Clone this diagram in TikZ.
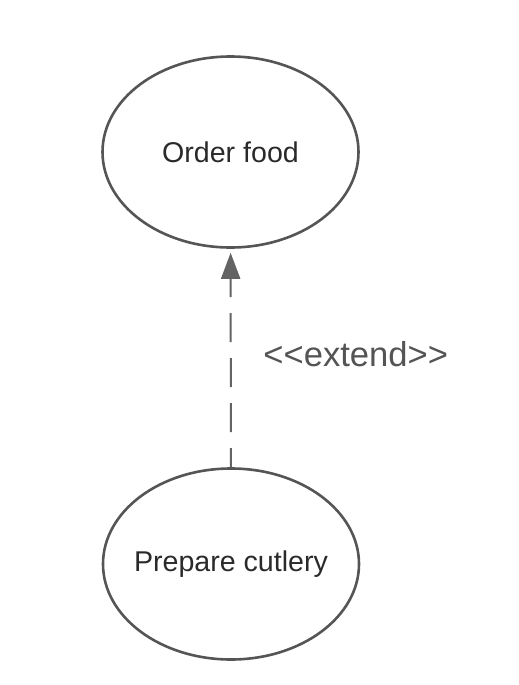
\documentclass[tikz,border=0pt]{standalone}
\usepackage{fontspec}
\newfontfamily\ucfont{Liberation Sans}
\usetikzlibrary{shapes.geometric,arrows.meta}
\definecolor{ucline}{HTML}{555555}
\definecolor{uctext}{HTML}{2A2A2A}
\definecolor{extline}{HTML}{636363}
\tikzset{
  usecase/.style={shape=ellipse,draw=ucline,line width=1.3pt,inner sep=-12pt,
    minimum width=128pt,minimum height=95.5pt,text=uctext,font=\ucfont\fontsize{14.3pt}{16pt}\selectfont},
  extendline/.style={draw=extline,line width=1pt,dash pattern=on 14.5pt off 8pt,dash phase=5pt,
    -{Triangle[width=9.5pt,length=13pt]},shorten >=2pt},
  stereo/.style={text=extline!85!black,inner sep=0pt,anchor=west,font=\ucfont\fontsize{17.3pt}{19pt}\selectfont}
}
\begin{document}
\begin{tikzpicture}[x=0.5pt,y=-0.5pt]
				\useasboundingbox (0,0) rectangle (519,685);
				\node[usecase] (of) at (230.5,152) {Order food};
				\node[usecase] (pc) at (231,564) {Prepare cutlery};
				\node[stereo] (ext) at (263,354) {<<extend>>};

				\draw[extendline] (pc) -- (of);
			\end{tikzpicture}
\end{document}
